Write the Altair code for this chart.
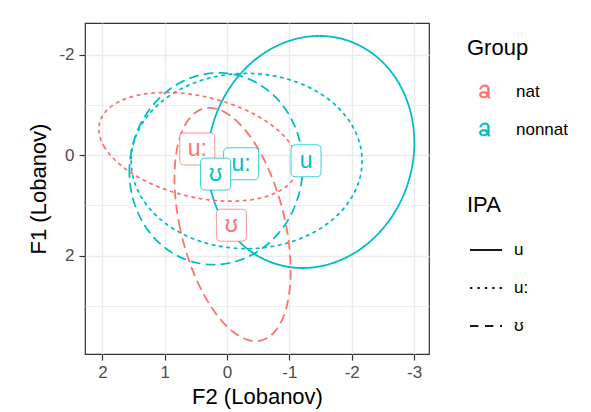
import numpy as np
import pandas as pd
import altair as alt

# ---- ellipse parameters (data units) ----
ell_group = ["nonnat", "nonnat", "nonnat", "nat", "nat"]
ell_ipa = ["u", "u:", "ʊ", "u:", "ʊ"]
ell_cx = [-1.346, -0.313, 0.177, 0.462, -0.088]
ell_cy = [-0.062, 0.118, 0.272, -0.165, 1.381]
ell_w = [1.659, 1.853, 1.391, 1.596, 0.932]
ell_h = [2.310, 1.745, 1.909, 1.083, 2.321]
ell_s = [0.133, 0.0, 0.04, -0.52, -0.37]

# ---- label positions (group means) ----
lab_group = ["nat", "nat", "nonnat", "nonnat", "nonnat"]
lab_ipa = ["u:", "ʊ", "u", "u:", "ʊ"]
lab_x = [0.479, -0.069, -1.267, -0.225, 0.185]
lab_y = [-0.121, 1.396, 0.113, 0.173, 0.378]

x_ticks = [2, 1.5, 1, 0.5, 0, -0.5, -1, -1.5, -2, -2.5, -3]
y_ticks = [-2, -1, 0, 1, 2, 3]

RED = "#F8766D"
TEAL = "#00BFC4"
FONT = "Liberation Sans"

rows = []
t = np.linspace(0, 2 * np.pi, 181)
for g, p, cx, cy, w, h, s in zip(ell_group, ell_ipa, ell_cx, ell_cy, ell_w, ell_h, ell_s):
    a = np.sqrt(w * w - s * s)
    xs = cx + a * np.cos(t) + s * np.sin(t)
    ys = cy + h * np.sin(t)
    for k, (xv, yv) in enumerate(zip(xs, ys)):
        rows.append({"Group": g, "IPA": p, "k": k, "F2": xv, "F1": yv})
ell_df = pd.DataFrame(rows)

lab_df = pd.DataFrame({"Group": lab_group, "IPA": lab_ipa, "F2": lab_x, "F1": lab_y})


def rrect(hw, hh, r):
    return (f"M{-hw + r},{-hh} L{hw - r},{-hh} Q{hw},{-hh} {hw},{-hh + r} "
            f"L{hw},{hh - r} Q{hw},{hh} {hw - r},{hh} L{-hw + r},{hh} "
            f"Q{-hw},{hh} {-hw},{hh - r} L{-hw},{-hh + r} Q{-hw},{-hh} {-hw + r},{-hh} Z")


K = 18.0
wide_box = rrect(17.5 / K, 16 / K, 4.5 / K)
narrow_box = rrect(15 / K, 16 / K, 4.5 / K)

# filled outline of a lowercase "a" (legend key of geom_label)
a_glyph = (
    "M-0.76,0.45 A0.68,0.48 0 1 1 0.6,0.45 A0.68,0.48 0 1 1 -0.76,0.45 Z "
    "M-0.48,0.47 A0.38,0.22 0 1 0 0.28,0.47 A0.38,0.22 0 1 0 -0.48,0.47 Z "
    "M0.42,-0.4 L0.7,-0.4 L0.7,0.62 Q0.72,0.82 0.85,0.95 L0.55,0.95 Q0.44,0.8 0.42,0.62 Z "
    "M-0.72,-0.36 C-0.62,-0.85 -0.2,-0.98 0.05,-0.98 C0.5,-0.98 0.7,-0.75 0.7,-0.4 "
    "L0.42,-0.4 C0.42,-0.6 0.3,-0.72 0.03,-0.72 C-0.2,-0.72 -0.38,-0.62 -0.44,-0.32 Z"
)

xscale = alt.Scale(domain=[-3.24, 2.28], reverse=True, nice=False, zero=False)
yscale = alt.Scale(domain=[-2.63, 3.96], reverse=True, nice=False, zero=False)
cdom = ["nat", "nonnat"]
crange = [RED, TEAL]

x_axis = alt.Axis(
    title="F2 (Lobanov)", values=x_ticks,
    labelExpr="datum.value % 1 == 0 ? '' + datum.value : ''",
    grid=True, gridColor="#EBEBEB",
    gridWidth={"condition": {"test": "datum.value % 1 == 0", "value": 1.4}, "value": 0.8},
    tickOpacity={"condition": {"test": "datum.value % 1 == 0", "value": 1}, "value": 0},
    tickSize=6, tickColor="#333333", tickWidth=1.2, domain=False,
    labelFontSize=17, labelColor="#4D4D4D", labelPadding=4,
    titleFontSize=22, titleFontWeight="normal", titleColor="black", titlePadding=6,
)
y_axis = alt.Axis(
    title="F1 (Lobanov)", values=y_ticks,
    labelExpr="datum.value % 2 == 0 ? '' + datum.value : ''",
    grid=True, gridColor="#EBEBEB",
    gridWidth={"condition": {"test": "datum.value % 2 == 0", "value": 1.4}, "value": 0.8},
    tickOpacity={"condition": {"test": "datum.value % 2 == 0", "value": 1}, "value": 0},
    tickSize=6, tickColor="#333333", tickWidth=1.2, domain=False,
    labelFontSize=17, labelColor="#4D4D4D", labelPadding=5,
    titleFontSize=22, titleFontWeight="normal", titleColor="black", titlePadding=8,
)

lines = alt.Chart(ell_df).mark_line(strokeWidth=1.8, strokeCap="round").encode(
    x=alt.X("F2:Q", scale=xscale, axis=x_axis),
    y=alt.Y("F1:Q", scale=yscale, axis=y_axis),
    color=alt.Color("Group:N", scale=alt.Scale(domain=cdom, range=crange),
                    legend=alt.Legend(
                        title="Group", orient="none", legendX=382, legendY=15,
                        symbolType=a_glyph, symbolSize=196, symbolStrokeWidth=0.4,
                        symbolOffset=9, labelOffset=23, rowPadding=20, titlePadding=23,
                        labelFontSize=17, titleFontSize=22, titleFontWeight="normal",
                        titleColor="black", labelColor="black")),
    strokeDash=alt.StrokeDash("IPA:N", scale=alt.Scale(domain=["u", "u:", "ʊ"],
                                                       range=[[1, 0], [2.4, 5.0], [8.4, 6.6]]),
                              legend=alt.Legend(
                                  title="IPA", orient="none", legendX=382, legendY=172,
                                  symbolType="stroke", symbolSize=1024, symbolStrokeWidth=2,
                                  symbolStrokeColor="#1a1a1a",
                                  symbolOffset=2, labelOffset=11, rowPadding=13, titlePadding=16,
                                  labelFontSize=17, titleFontSize=22, titleFontWeight="normal",
                                  titleColor="black", labelColor="black")),
    detail="IPA:N",
    order=alt.Order("k:Q"),
)

box_style = dict(size=K * K * 4, strokeWidth=1, opacity=1, fill="white",
                 fillOpacity=1, strokeOpacity=0.75)
box_enc = dict(
    x=alt.X("F2:Q", scale=xscale),
    y=alt.Y("F1:Q", scale=yscale),
    stroke=alt.Stroke("Group:N", scale=alt.Scale(domain=cdom, range=crange), legend=None),
)
boxes_wide = alt.Chart(lab_df).transform_filter(alt.datum.IPA == "u:").mark_point(
    shape=wide_box, **box_style).encode(**box_enc)
boxes_narrow = alt.Chart(lab_df).transform_filter(alt.datum.IPA != "u:").mark_point(
    shape=narrow_box, **box_style).encode(**box_enc)

texts = alt.Chart(lab_df).mark_text(fontSize=23, font=FONT, baseline="middle").encode(
    x=alt.X("F2:Q", scale=xscale),
    y=alt.Y("F1:Q", scale=yscale),
    fill=alt.Fill("Group:N", scale=alt.Scale(domain=cdom, range=crange), legend=None),
    text="IPA:N",
)

chart = alt.layer(lines, boxes_wide, boxes_narrow, texts).properties(
    width=344, height=331,
    padding={"left": 19, "top": 15, "right": 5, "bottom": 5},
).configure(font=FONT).configure_view(stroke="#333333", strokeWidth=1.2)

chart.save("out.html", embed_options={"renderer": "svg", "actions": False})
